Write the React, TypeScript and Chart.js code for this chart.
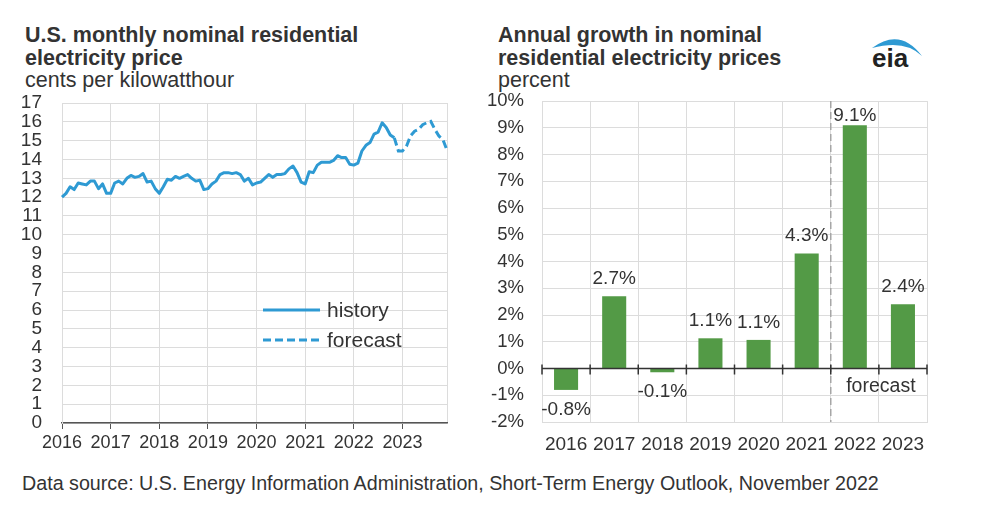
import React, { useEffect, useRef } from 'react';
import { Chart, registerables } from 'chart.js';

Chart.register(...registerables);

const FONT = '"Liberation Sans", Arial, Helvetica, sans-serif';
const TEXT = '#333333';
const GRID = '#dcdcdc';
const BLUE = '#2e9ad3';
const GREEN = '#539a46';
const CLEAR = 'rgba(0,0,0,0)';

// ---- data ----
const years = ['2016', '2017', '2018', '2019', '2020', '2021', '2022', '2023'];

// monthly price, cents per kWh, Jan 2016 .. Nov 2022 (history)
const historyValues = [
  12.0, 12.2, 12.55, 12.4, 12.75, 12.7, 12.65, 12.85, 12.85, 12.45, 12.7, 12.2,
  12.2, 12.75, 12.85, 12.7, 13.0, 13.15, 13.05, 13.1, 13.25, 12.8, 12.85, 12.45,
  12.2, 12.55, 12.95, 12.9, 13.1, 13.0, 13.1, 13.2, 13.0, 12.85, 12.9, 12.4,
  12.45, 12.7, 12.85, 13.2, 13.3, 13.3, 13.25, 13.3, 13.2, 12.85, 13.0, 12.65,
  12.75, 12.8, 13.0, 13.2, 13.05, 13.2, 13.2, 13.25, 13.5, 13.65, 13.3, 12.8,
  12.7, 13.35, 13.3, 13.7, 13.85, 13.85, 13.85, 13.95, 14.2, 14.1, 14.1, 13.75,
  13.7, 13.8, 14.45, 14.75, 14.9, 15.35, 15.45, 15.95, 15.7, 15.3, 15.15,
];
// forecast, starting at the last history month
const forecastStartIndex = 82;
const forecastValues = [15.15, 14.45, 14.45, 14.7, 15.25, 15.5, 15.6, 15.85, 15.95, 16.03, 15.6, 15.25, 15.05, 14.5];

const priceTicksMax = 17;

// annual growth, percent
const growthYears = years;
const growthValues = [-0.8, 2.7, -0.14, 1.13, 1.07, 4.3, 9.1, 2.4];
const growthForecastIndex = 6;
const growthMin = -2;
const growthMax = 10;

const monthLabels = years.flatMap((y) => Array.from({ length: 12 }, (_, m) => `${y}-${m + 1}`));

const LeftChart: React.FC = () => {
  const ref = useRef<HTMLCanvasElement | null>(null);
  useEffect(() => {
    if (!ref.current) return;
    const hist = monthLabels.map((_, i) => (i < historyValues.length ? historyValues[i] : null));
    const fc = monthLabels.map((_, i) =>
      i >= forecastStartIndex && i - forecastStartIndex < forecastValues.length
        ? forecastValues[i - forecastStartIndex]
        : null
    );
    const last = monthLabels.length - 1;
    const chart = new Chart(ref.current, {
      type: 'line',
      data: {
        labels: monthLabels,
        datasets: [
          { data: hist, borderColor: BLUE, borderWidth: 3, pointRadius: 0, tension: 0, borderJoinStyle: 'round' },
          { data: fc, borderColor: BLUE, borderWidth: 3, pointRadius: 0, tension: 0, borderDash: [8, 4] },
        ],
      },
      options: {
        animation: false,
        responsive: false,
        events: [],
        layout: { padding: { top: 13, right: 13, left: 0, bottom: 0 } },
        plugins: { legend: { display: false }, tooltip: { enabled: false } },
        scales: {
          x: {
            type: 'category',
            grid: {
              color: (c: any) => (c.index % 12 === 0 || c.index === last ? GRID : CLEAR),
              tickColor: (c: any) => (c.index % 12 === 0 ? '#555555' : CLEAR),
              tickLength: 6,
              lineWidth: 1,
            },
            border: { color: '#555555', width: 1.5 },
            ticks: {
              autoSkip: false,
              maxRotation: 0,
              minRotation: 0,
              padding: 3,
              color: TEXT,
              font: { size: 18, family: FONT },
              callback: (_v: any, i: number) => (i % 12 === 0 ? years[i / 12] : ''),
            },
            afterFit: (s: any) => {
              s.height = 37;
            },
          },
          y: {
            min: 0,
            max: priceTicksMax,
            ticks: { stepSize: 1, autoSkip: false, padding: 0, color: TEXT, font: { size: 19, family: FONT } },
            grid: { color: GRID, drawTicks: true, tickLength: 20, tickColor: CLEAR },
            border: { color: GRID },
            afterFit: (s: any) => {
              s.width = 62;
            },
          },
        },
      },
    });
    return () => chart.destroy();
  }, []);
  return <canvas ref={ref} width={460} height={370} style={{ position: 'absolute', left: 0, top: 90 }} />;
};

const barExtras = {
  id: 'barExtras',
  afterDatasetsDraw(chart: any) {
    const { ctx, chartArea, scales } = chart;
    const x = scales.x;
    const y = scales.y;
    const y0 = y.getPixelForValue(0);
    const n = growthYears.length;
    const step = x.getPixelForValue(1) - x.getPixelForValue(0);
    ctx.save();
    // forecast divider
    const bx = (x.getPixelForValue(growthForecastIndex - 1) + x.getPixelForValue(growthForecastIndex)) / 2;
    ctx.strokeStyle = '#a6a6a6';
    ctx.lineWidth = 1.5;
    ctx.setLineDash([7, 4]);
    ctx.beginPath();
    ctx.moveTo(bx, chartArea.top);
    ctx.lineTo(bx, chartArea.bottom);
    ctx.stroke();
    ctx.setLineDash([]);
    // zero line with ticks
    ctx.strokeStyle = '#333333';
    ctx.lineWidth = 1.5;
    ctx.beginPath();
    ctx.moveTo(chartArea.left, y0);
    ctx.lineTo(chartArea.right, y0);
    ctx.stroke();
    for (let i = 0; i <= n; i++) {
      const tx = x.getPixelForValue(0) + (i - 0.5) * step;
      ctx.beginPath();
      ctx.moveTo(tx, y0 - 4);
      ctx.lineTo(tx, y0 + 6);
      ctx.stroke();
    }
    // value labels
    const meta = chart.getDatasetMeta(0);
    ctx.fillStyle = TEXT;
    ctx.font = `19px ${FONT}`;
    ctx.textAlign = 'center';
    ctx.textBaseline = 'middle';
    meta.data.forEach((bar: any, i: number) => {
      const v = growthValues[i];
      const txt = `${v.toFixed(1)}%`;
      const ly = v >= 0 ? Math.max(bar.y - 17.5, chartArea.top + 15) : bar.y + 20;
      ctx.fillText(txt, bar.x, ly);
    });
    // forecast label
    const fx = (x.getPixelForValue(growthForecastIndex) + x.getPixelForValue(growthForecastIndex + 1)) / 2 + 2;
    ctx.font = `19.5px ${FONT}`;
    ctx.fillText('forecast', fx, y0 + 18);
    ctx.restore();
  },
};

const RightChart: React.FC = () => {
  const ref = useRef<HTMLCanvasElement | null>(null);
  useEffect(() => {
    if (!ref.current) return;
    const chart = new Chart(ref.current, {
      type: 'bar',
      data: {
        labels: growthYears,
        datasets: [
          {
            data: growthValues,
            backgroundColor: GREEN,
            borderWidth: 0,
            barPercentage: 0.5,
            categoryPercentage: 1,
          },
        ],
      },
      options: {
        animation: false,
        responsive: false,
        events: [],
        layout: { padding: { top: 11, right: 33, left: 0, bottom: 0 } },
        plugins: { legend: { display: false }, tooltip: { enabled: false } },
        scales: {
          x: {
            grid: { color: GRID, drawTicks: false, offset: true },
            border: { color: GRID },
            ticks: { padding: 11, color: TEXT, font: { size: 19, family: FONT }, maxRotation: 0, autoSkip: false },
            afterFit: (s: any) => {
              s.height = 38;
            },
          },
          y: {
            min: growthMin,
            max: growthMax,
            ticks: {
              stepSize: 1,
              autoSkip: false,
              padding: 0,
              color: TEXT,
              font: { size: 18.5, family: FONT },
              callback: (v: any) => `${v}%`,
            },
            grid: { color: GRID, drawTicks: true, tickLength: 18, tickColor: CLEAR },
            border: { color: GRID },
            afterFit: (s: any) => {
              s.width = 62;
            },
          },
        },
      },
      plugins: [barExtras],
    });
    return () => chart.destroy();
  }, []);
  return <canvas ref={ref} width={480} height={370} style={{ position: 'absolute', left: 480, top: 90 }} />;
};

const App: React.FC = () => {
  const titleStyle: React.CSSProperties = {
    position: 'absolute',
    fontSize: 21.5,
    lineHeight: '22.5px',
    color: TEXT,
    whiteSpace: 'nowrap',
  };
  return (
    <div
      style={{
        position: 'absolute',
        left: 0,
        top: 0,
        width: 990,
        height: 526,
        background: '#ffffff',
        fontFamily: FONT,
        color: TEXT,
        overflow: 'hidden',
      }}
    >
      <div style={{ ...titleStyle, left: 25, top: 24 }}>
        <div style={{ fontWeight: 700 }}>U.S. monthly nominal residential</div>
        <div style={{ fontWeight: 700 }}>electricity price</div>
        <div>cents per kilowatthour</div>
      </div>
      <div style={{ ...titleStyle, left: 498, top: 24 }}>
        <div style={{ fontWeight: 700 }}>Annual growth in nominal</div>
        <div style={{ fontWeight: 700 }}>residential electricity prices</div>
        <div>percent</div>
      </div>
      <svg width={80} height={50} style={{ position: 'absolute', left: 860, top: 25 }}>
        <path d="M12,23 Q40,2 62,31 Q45,14 12,23 Z" fill={BLUE} />
        <text x={12} y={42} fontFamily={FONT} fontWeight={700} fontSize={26} fill="#222222">
          eia
        </text>
      </svg>
      <LeftChart />
      <RightChart />
      <svg width={70} height={50} style={{ position: 'absolute', left: 258, top: 295 }}>
        <line x1={5} y1={15} x2={62} y2={15} stroke={BLUE} strokeWidth={3} />
        <line x1={5} y1={45} x2={62} y2={45} stroke={BLUE} strokeWidth={3} strokeDasharray="8 4" />
      </svg>
      <div style={{ position: 'absolute', left: 327, top: 298, fontSize: 21, lineHeight: '24px', whiteSpace: 'nowrap' }}>
        history
      </div>
      <div style={{ position: 'absolute', left: 327, top: 328, fontSize: 21, lineHeight: '24px', whiteSpace: 'nowrap' }}>
        forecast
      </div>
      <div style={{ position: 'absolute', left: 22, top: 472, fontSize: 19.7, lineHeight: '22px', whiteSpace: 'nowrap' }}>
        Data source: U.S. Energy Information Administration, Short-Term Energy Outlook, November 2022
      </div>
    </div>
  );
};

export default App;
